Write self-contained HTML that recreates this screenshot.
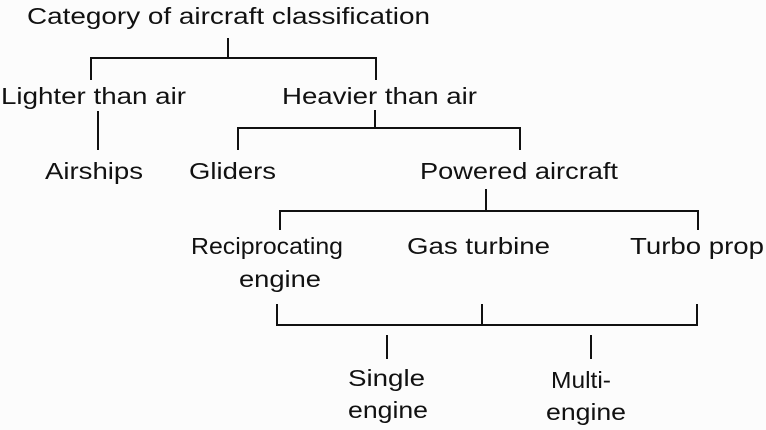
<!DOCTYPE html>
<html><head><meta charset="utf-8"><style>
html,body{margin:0;padding:0;background:#fff;}
svg{display:block;}
text{font-family:"Liberation Sans",Arial,sans-serif;font-size:23px;fill:#111;}
line{stroke:#111;stroke-width:2;}
</style></head><body>
<svg width="766" height="430" viewBox="0 0 766 430">
<rect width="766" height="430" fill="#fcfcfc"/>
<text x="27" y="24" textLength="403" lengthAdjust="spacingAndGlyphs">Category of aircraft classification</text>
<line x1="228" y1="38" x2="228" y2="58"/>
<line x1="91" y1="58" x2="377" y2="58"/>
<line x1="91" y1="57" x2="91" y2="80"/>
<line x1="376" y1="57" x2="376" y2="80"/>
<text x="1" y="104" textLength="185" lengthAdjust="spacingAndGlyphs">Lighter than air</text>
<text x="282" y="104" textLength="195" lengthAdjust="spacingAndGlyphs">Heavier than air</text>
<line x1="98" y1="111" x2="98" y2="150"/>
<line x1="375" y1="110" x2="375" y2="128"/>
<line x1="238" y1="128" x2="521" y2="128"/>
<line x1="238" y1="127" x2="238" y2="150"/>
<line x1="520" y1="127" x2="520" y2="150"/>
<text x="45" y="179" textLength="98" lengthAdjust="spacingAndGlyphs">Airships</text>
<text x="189" y="179" textLength="87" lengthAdjust="spacingAndGlyphs">Gliders</text>
<text x="420" y="179" textLength="198" lengthAdjust="spacingAndGlyphs">Powered aircraft</text>
<line x1="486" y1="189" x2="486" y2="212"/>
<line x1="280" y1="211" x2="699" y2="211"/>
<line x1="280" y1="210" x2="280" y2="230"/>
<line x1="698" y1="210" x2="698" y2="230"/>
<text x="191" y="254" textLength="152" lengthAdjust="spacingAndGlyphs">Reciprocating</text>
<text x="239" y="287" textLength="82" lengthAdjust="spacingAndGlyphs">engine</text>
<text x="407" y="254" textLength="143" lengthAdjust="spacingAndGlyphs">Gas turbine</text>
<text x="630" y="254" textLength="134" lengthAdjust="spacingAndGlyphs">Turbo prop</text>
<line x1="277" y1="304" x2="277" y2="326"/>
<line x1="482" y1="304" x2="482" y2="326"/>
<line x1="697" y1="304" x2="697" y2="326"/>
<line x1="276" y1="325" x2="698" y2="325"/>
<line x1="387" y1="335" x2="387" y2="359"/>
<line x1="591" y1="335" x2="591" y2="359"/>
<text x="348" y="386" textLength="77" lengthAdjust="spacingAndGlyphs">Single</text>
<text x="348" y="418" textLength="80" lengthAdjust="spacingAndGlyphs">engine</text>
<text x="551" y="388" textLength="60" lengthAdjust="spacingAndGlyphs">Multi-</text>
<text x="546" y="420" textLength="80" lengthAdjust="spacingAndGlyphs">engine</text>
</svg>
</body></html>
